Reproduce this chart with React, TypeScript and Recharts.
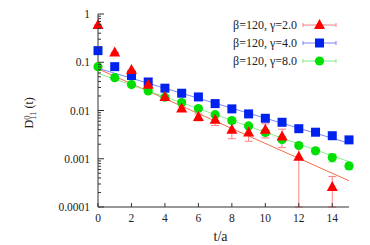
import React from 'react';
import { ComposedChart, Scatter, Line, XAxis, YAxis, ErrorBar } from 'recharts';

const tValues = [0, 1, 2, 3, 4, 5, 6, 7, 8, 9, 10, 11, 12, 13, 14, 15];

const gamma2Values = [0.59, 0.16, 0.069, 0.034, 0.019, 0.011, 0.0073, 0.0064, 0.004, 0.0035, 0.004, 0.0029, 0.0011, null, 0.00026, null];
const gamma2Errors = [0, 0, 0, 0.001, 0.001, 0.001, 0.0012, 0.0015, 0.0014, 0.0012, 0.0013, 0.0012, 0.001, null, 0.00017, null];

const gamma4Values = [0.174, 0.081, 0.053, 0.039, 0.029, 0.0228, 0.0191, 0.0139, 0.0108, 0.0085, 0.0069, 0.0057, 0.0042, 0.00355, 0.003, 0.00246];
const gamma4Errors = [0, 0, 0, 0, 0, 0, 0, 0, 0, 0, 0.0002, 0.0002, 0.0002, 0.0002, 0.0002, 0.0002];

const gamma8Values = [0.081, 0.048, 0.0344, 0.0255, 0.0188, 0.0146, 0.011, 0.0082, 0.0062, 0.0048, 0.0035, 0.0025, 0.00188, 0.00146, 0.00106, 0.00071];
const gamma8Errors = [0, 0, 0, 0, 0, 0, 0, 0.0004, 0.0004, 0.0004, 0.0004, 0.0003, 0.0002, 0.0002, 0.0002, 0.0001];

// fit lines (endpoints of the exponential fits)
const fitT = [0, 15];
const fit2Values = [0.073, 0.00035];
const fit4Values = [0.075, 0.0021];
const fit8Values = [0.059, 0.00087];

const xTicks = [0, 2, 4, 6, 8, 10, 12, 14];
const yMajorTicks = [0.0001, 0.001, 0.01, 0.1, 1];
const yTickLabels = ['0.0001', '0.001', '0.01', '0.1', '1'];

const legendLabels = ['β=120, γ=2.0', 'β=120, γ=4.0', 'β=120, γ=8.0'];

const YMIN = 0.0001;

const buildPoints = (vals: (number | null)[], errs: (number | null)[]) =>
  tValues
    .map((t, i) => {
      const v = vals[i];
      if (v === null || v === undefined) return null;
      const e = (errs[i] as number) || 0;
      const low = Math.min(e, v - YMIN);
      return { t, v, err: [low, e] };
    })
    .filter(Boolean) as any[];

const buildFit = (vals: number[]) => fitT.map((t, i) => ({ t, v: vals[i] }));

const data2 = buildPoints(gamma2Values, gamma2Errors);
const data4 = buildPoints(gamma4Values, gamma4Errors);
const data8 = buildPoints(gamma8Values, gamma8Errors);

const yAllTicks: number[] = (() => {
  const out: number[] = [];
  for (let k = -4; k < 0; k++) {
    for (let m = 1; m <= 9; m++) out.push(Number((m * Math.pow(10, k)).toPrecision(3)));
  }
  out.push(1);
  return out;
})();

const majorIndex = (v: number) => yMajorTicks.findIndex((m) => Math.abs(m - v) / m < 1e-6);

const FONT = "'Liberation Serif', 'Times New Roman', serif";
const AXIS_COLOR = '#333';
const TICK_FS = 11.5;

const RED = '#ff0000';
const BLUE = '#0022ee';
const GREEN = '#00e000';
const RED_ERR = '#ff8080';
const BLUE_ERR = '#8080ff';
const GREEN_ERR = '#80ee80';
const RED_FIT = '#ee7048';
const BLUE_FIT = '#7a86ff';
const GREEN_FIT = '#88ee88';

const LeftYTick = (props: any) => {
  const { x, y, payload } = props;
  const idx = majorIndex(payload.value);
  const axisX = x + 8;
  return (
    <g>
      <line x1={axisX} x2={axisX + (idx >= 0 ? 6 : 3)} y1={y} y2={y} stroke={AXIS_COLOR} strokeWidth={1} />
      {idx >= 0 && (
        <text x={x} y={y} dy="0.355em" textAnchor="end" style={{ fontFamily: FONT }} fontSize={TICK_FS} fill="#222">
          {yTickLabels[idx]}
        </text>
      )}
    </g>
  );
};

const RightYTick = (props: any) => {
  const { x, y, payload } = props;
  const idx = majorIndex(payload.value);
  return <line x1={x} x2={x - (idx >= 0 ? 6 : 3)} y1={y} y2={y} stroke={AXIS_COLOR} strokeWidth={1} />;
};

const BottomXTick = (props: any) => {
  const { x, y, payload } = props;
  const axisY = y - 7;
  return (
    <g>
      <line x1={x} x2={x} y1={axisY} y2={axisY - 4} stroke={AXIS_COLOR} strokeWidth={1} />
      <text x={x} y={y} dy="0.71em" textAnchor="middle" style={{ fontFamily: FONT }} fontSize={TICK_FS} fill="#222">
        {payload.value}
      </text>
    </g>
  );
};

const TopXTick = (props: any) => {
  const { x, y } = props;
  return <line x1={x} x2={x} y1={y} y2={y + 4} stroke={AXIS_COLOR} strokeWidth={1} />;
};

const Triangle = ({ cx, cy, fill }: any) => {
  if (cx == null || cy == null) return null;
  return <polygon points={`${cx},${cy - 6} ${cx - 5.5},${cy + 4} ${cx + 5.5},${cy + 4}`} fill={fill} />;
};
const Square = ({ cx, cy, fill }: any) => {
  if (cx == null || cy == null) return null;
  return <rect x={cx - 4.5} y={cy - 4.5} width={9} height={9} fill={fill} />;
};
const Circle = ({ cx, cy, fill }: any) => {
  if (cx == null || cy == null) return null;
  return <circle cx={cx} cy={cy} r={4.6} fill={fill} />;
};

const legendItems = [
  { label: legendLabels[0], color: RED, err: RED_ERR, shape: 'tri' },
  { label: legendLabels[1], color: BLUE, err: BLUE_ERR, shape: 'sq' },
  { label: legendLabels[2], color: GREEN, err: GREEN_ERR, shape: 'circ' },
];

const XLabel = (props: any) => {
  const vb = props.viewBox || { x: 98, y: 207, width: 251, height: 38 };
  return (
    <text x={vb.x + vb.width / 2 - 3} y={241} textAnchor="middle" style={{ fontFamily: FONT }} fontSize={14} fill="#222">
      t/a
    </text>
  );
};

const YLabel = () => (
  <g transform="translate(32.5,111) rotate(-90)" style={{ fontFamily: FONT }} fill="#222">
    <text x={-17.5} y={0} fontSize={12}>D</text>
    <text x={-8.8} y={-3} fontSize={8.5}>0</text>
    <text x={-8.8} y={3.5} fontSize={8.5}>11</text>
    <text x={2.5} y={0} fontSize={12}>(t)</text>
  </g>
);

export default function App() {
  return (
    <div style={{ position: 'absolute', left: 0, top: 0, width: 370, height: 245, background: '#fff', fontFamily: FONT }}>
      <ComposedChart width={370} height={245} margin={{ top: 14, right: 21, bottom: 0, left: 0 }}>
        <XAxis
          dataKey="t"
          type="number"
          domain={[0, 15]}
          ticks={xTicks}
          interval={0}
          height={38}
          tickSize={0}
          tickMargin={7}
          tickLine={false}
          tick={(p: any) => <BottomXTick {...p} />}
          stroke={AXIS_COLOR}
          label={(p: any) => <XLabel {...p} />}
        />
        <XAxis
          xAxisId="top"
          orientation="top"
          type="number"
          domain={[0, 15]}
          ticks={xTicks}
          interval={0}
          height={0}
          tickSize={0}
          tickMargin={0}
          tickLine={false}
          tick={(p: any) => <TopXTick {...p} />}
          stroke={AXIS_COLOR}
        />
        <YAxis
          type="number"
          scale="log"
          domain={[0.0001, 1]}
          ticks={yAllTicks}
          interval={0}
          width={98}
          tickSize={0}
          tickMargin={8}
          tickLine={false}
          tick={(p: any) => <LeftYTick {...p} />}
          stroke={AXIS_COLOR}
          label={() => <YLabel />}
        />
        <YAxis
          yAxisId="right"
          orientation="right"
          type="number"
          scale="log"
          domain={[0.0001, 1]}
          ticks={yAllTicks}
          interval={0}
          width={0}
          tickSize={0}
          tickMargin={0}
          tickLine={false}
          tick={(p: any) => <RightYTick {...p} />}
          stroke="#666"
          strokeWidth={1.5}
        />

        <Line data={buildFit(fit2Values)} dataKey="v" stroke={RED_FIT} strokeWidth={1} dot={false} isAnimationActive={false} />
        <Line data={buildFit(fit4Values)} dataKey="v" stroke={BLUE_FIT} strokeWidth={1} dot={false} isAnimationActive={false} />
        <Line data={buildFit(fit8Values)} dataKey="v" stroke={GREEN_FIT} strokeWidth={1} dot={false} isAnimationActive={false} />

        <Scatter data={data8} dataKey="v" fill={GREEN} shape={(p: any) => <Circle {...p} fill={GREEN} />} isAnimationActive={false}>
          <ErrorBar dataKey="err" direction="y" width={4} stroke={GREEN_ERR} strokeWidth={1} />
        </Scatter>
        <Scatter data={data4} dataKey="v" fill={BLUE} shape={(p: any) => <Square {...p} fill={BLUE} />} isAnimationActive={false}>
          <ErrorBar dataKey="err" direction="y" width={4} stroke={BLUE_ERR} strokeWidth={1} />
        </Scatter>
        <Scatter data={data2} dataKey="v" fill={RED} shape={(p: any) => <Triangle {...p} fill={RED} />} isAnimationActive={false}>
          <ErrorBar dataKey="err" direction="y" width={4} stroke={RED_ERR} strokeWidth={1} />
        </Scatter>
      </ComposedChart>
      <svg width={370} height={80} style={{ position: 'absolute', left: 0, top: 0, pointerEvents: 'none' }}>
        {legendItems.map((it, i) => {
          const cy = 25 + i * 18;
          return (
            <g key={i}>
              <text x={297} y={cy} dy="0.35em" textAnchor="end" style={{ fontFamily: FONT }} fontSize={12} fill="#222">
                {it.label}
              </text>
              <line x1={303} x2={336} y1={cy} y2={cy} stroke={it.err} strokeWidth={1} />
              <line x1={303} x2={303} y1={cy - 2} y2={cy + 2} stroke={it.err} strokeWidth={1} />
              <line x1={336} x2={336} y1={cy - 2} y2={cy + 2} stroke={it.err} strokeWidth={1} />
              {it.shape === 'tri' && <Triangle cx={319.5} cy={cy} fill={it.color} />}
              {it.shape === 'sq' && <Square cx={319.5} cy={cy} fill={it.color} />}
              {it.shape === 'circ' && <Circle cx={319.5} cy={cy} fill={it.color} />}
            </g>
          );
        })}
      </svg>
    </div>
  );
}
